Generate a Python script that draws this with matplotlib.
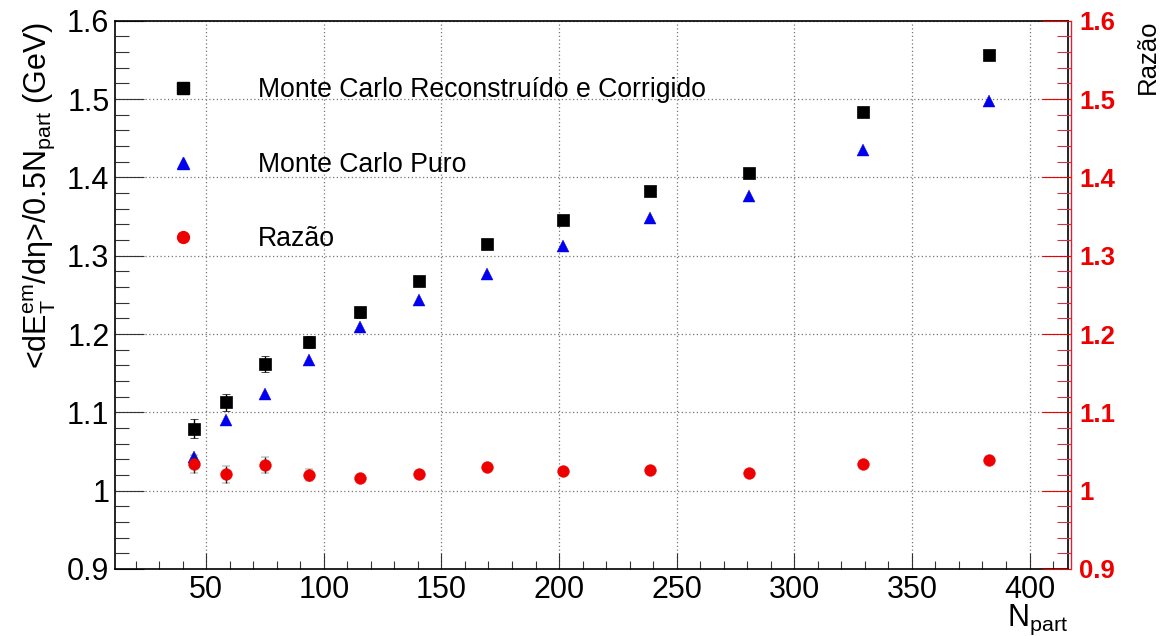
import matplotlib
matplotlib.use("Agg")
import matplotlib.pyplot as plt
from matplotlib.ticker import MultipleLocator, FixedLocator, FixedFormatter
import numpy as np

plt.rcParams["font.family"] = ["Liberation Sans", "DejaVu Sans"]
plt.rcParams["mathtext.fontset"] = "custom"
plt.rcParams["mathtext.rm"] = "Liberation Sans"
plt.rcParams["mathtext.it"] = "Liberation Sans:italic"
plt.rcParams["mathtext.bf"] = "Liberation Sans:bold"

# Number of participants per centrality class
npart = [45.0, 58.6, 75.0, 93.9, 115.3, 140.5, 169.2, 201.8, 238.7, 280.9, 329.3, 382.6]

# <dE_T^em/deta>/0.5 N_part (GeV)
reco_corr = [1.079, 1.113, 1.162, 1.190, 1.228, 1.268, 1.315, 1.345, 1.383, 1.406, 1.484, 1.556]
reco_corr_err = [0.012, 0.011, 0.010, 0.008, 0.007, 0.006, 0.005, 0.004, 0.004, 0.004, 0.004, 0.004]
mc_pure = [1.043, 1.090, 1.124, 1.167, 1.209, 1.243, 1.277, 1.312, 1.348, 1.376, 1.435, 1.498]

# Ratio reconstructed-corrected / pure
ratio = [1.034, 1.021, 1.033, 1.020, 1.016, 1.021, 1.030, 1.025, 1.026, 1.022, 1.034, 1.039]
ratio_err = [0.011, 0.011, 0.010, 0.008, 0.004, 0.004, 0.004, 0.004, 0.004, 0.004, 0.004, 0.004]

labels = ["Monte Carlo Reconstruído e Corrigido", "Monte Carlo Puro", "Razão"]
y_ticks = [0.9, 1.0, 1.1, 1.2, 1.3, 1.4, 1.5, 1.6]
y_ticklabels = ["0.9", "1", "1.1", "1.2", "1.3", "1.4", "1.5", "1.6"]

W, H = 1171, 636
fig = plt.figure(figsize=(W / 100, H / 100), dpi=100)
x0, x1, y0, y1 = 115, 1068, 20.7, 569
ax = fig.add_axes([x0 / W, 1 - y1 / H, (x1 - x0) / W, (y1 - y0) / H])

pad = 0.1 * (max(npart) - min(npart))
xlim = (min(npart) - pad, max(npart) + pad)
ylim = (0.9, 1.6)

ax.set_xlim(*xlim)
ax.set_ylim(*ylim)

grid_kw = dict(color="#777777", linestyle=(0, (1, 2)), linewidth=0.9)
ax.grid(True, which="major", **grid_kw)
ax.set_axisbelow(True)

ax.errorbar(npart, reco_corr, yerr=reco_corr_err, fmt="s", color="black",
            markersize=8, markeredgewidth=0.5, ecolor="black", elinewidth=1.0,
            capsize=3, capthick=1.0, zorder=3)
ax.plot(npart, mc_pure, "^", color="#0000ee", markersize=8.5,
        markeredgewidth=0.3, zorder=3)

ax.tick_params(axis="x", which="major", direction="in", length=11.5, width=0.8,
               labelsize=22, pad=4, top=False, color="#333333")
ax.tick_params(axis="x", which="minor", direction="in", length=6, width=0.8,
               top=False, color="#333333")
ax.tick_params(axis="y", which="major", direction="in", length=21, width=0.8,
               labelsize=22, pad=4, right=False, color="#333333")
ax.tick_params(axis="y", which="minor", direction="in", length=10, width=0.8,
               right=False, color="#333333")
ax.xaxis.set_major_locator(MultipleLocator(50))
ax.xaxis.set_minor_locator(MultipleLocator(10))
ax.yaxis.set_major_locator(FixedLocator(y_ticks))
ax.yaxis.set_major_formatter(FixedFormatter(y_ticklabels))
ax.yaxis.set_minor_locator(MultipleLocator(0.02))
for s in ax.spines.values():
    s.set_linewidth(1.2)
    s.set_color("black")

# Right-hand axis for the ratio
axr = ax.twinx()
axr.set_ylim(*ylim)
axr.set_xlim(*xlim)
axr.errorbar(npart, ratio, yerr=ratio_err, fmt="o", color="#ee0000",
             markersize=8.5, markeredgewidth=0.3, ecolor="#222222", elinewidth=1.0,
             capsize=3, capthick=1.0, zorder=3)
axr.yaxis.set_major_locator(FixedLocator(y_ticks))
axr.yaxis.set_major_formatter(FixedFormatter(y_ticklabels))
axr.yaxis.set_minor_locator(MultipleLocator(0.02))
axr.tick_params(axis="y", which="major", direction="in", length=21, width=0.8,
                pad=6, color="#ee0000", labelcolor="#ee0000", labelsize=18.5)
axr.tick_params(axis="y", which="minor", direction="in", length=10, width=0.8,
                color="#cc3344")
for side in ("left", "top", "bottom"):
    axr.spines[side].set_visible(False)
axr.spines["right"].set_color("#dd2233")
axr.spines["right"].set_linewidth(1.0)
axr.spines["right"].set_position(("outward", 2))

# Legend entries
leg_x, leg_tx = (183 - x0) / (x1 - x0), (258 - x0) / (x1 - x0)
leg_rows = [(88, dict(marker="s", color="black", markersize=8)),
            (163, dict(marker="^", color="#0000ee", markersize=8)),
            (237, dict(marker="o", color="#ee0000", markersize=8.5))]
for (yy, mk), lab in zip(leg_rows, labels):
    fy = (y1 - yy) / (y1 - y0)
    ax.plot([leg_x], [fy], transform=ax.transAxes, linestyle="none",
            clip_on=False, zorder=4, **mk)
    ax.text(leg_tx, fy - 0.004, lab, transform=ax.transAxes, fontsize=19.2,
            ha="left", va="center", zorder=4)

# Axis titles
fig.text(39 / W, 1 - 195 / H,
         r"<dE$_{\mathrm{T}}^{\mathrm{em}}$/d$\mathrm{\eta}$>/0.5N$_{\mathrm{part}}$ (GeV)",
         rotation=90, ha="center", va="center", fontsize=22)
fig.text(x1 / W, 1 - 603 / H, r"N$_{\mathrm{part}}$", ha="right", va="top",
         fontsize=22)
fig.text(1148 / W, 1 - 20 / H, "Razão", rotation=90, ha="center", va="top",
         fontsize=18.5)

# Bold ratio-axis labels
fig.canvas.draw()
for tick in axr.yaxis.get_major_ticks():
    tick.label2.set_fontweight("bold")

fig.savefig("out.png", dpi=100, facecolor="white")
